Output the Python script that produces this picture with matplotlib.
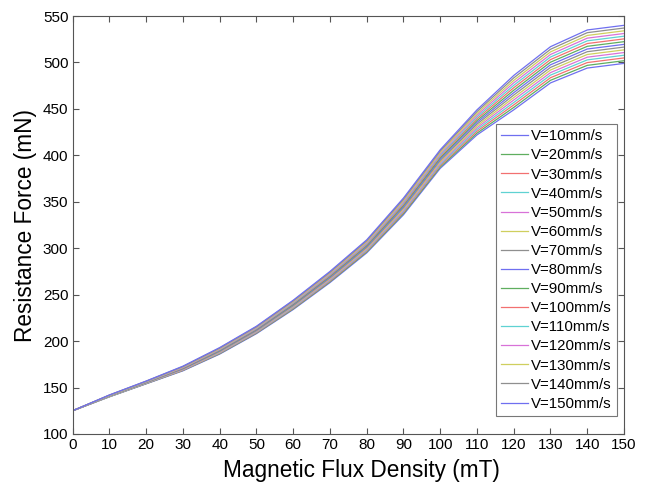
import matplotlib
matplotlib.use("Agg")
from matplotlib import pyplot as plt

plt.rcParams['font.family'] = ['Liberation Sans', 'DejaVu Sans']

# magnetic flux density (mT)
flux = [0, 10, 20, 30, 40, 50, 60, 70, 80, 90, 100, 110, 120, 130, 140, 150]

# resistance force (mN) for each velocity
f_v10 = [125, 140, 154, 168, 186, 208, 234, 263, 295, 336, 386, 422, 449, 478, 494, 499]
f_v20 = [125, 140.1, 154.2, 168.4, 186.5, 208.6, 234.7, 263.9, 296, 337.3, 387.4, 423.9, 451.6, 480.8, 496.9, 501.9]
f_v30 = [125, 140.3, 154.4, 168.7, 187, 209.1, 235.4, 264.7, 297, 338.6, 388.9, 425.9, 454.3, 483.6, 499.9, 504.9]
f_v40 = [125, 140.4, 154.6, 169.1, 187.5, 209.7, 236.1, 265.6, 298, 339.9, 390.3, 427.8, 456.9, 486.4, 502.8, 507.8]
f_v50 = [125, 140.6, 154.9, 169.4, 188, 210.3, 236.9, 266.4, 299, 341.1, 391.7, 429.7, 459.6, 489.1, 505.7, 510.7]
f_v60 = [125, 140.7, 155.1, 169.8, 188.5, 210.9, 237.6, 267.3, 300, 342.4, 393.1, 431.6, 462.2, 491.9, 508.6, 513.6]
f_v70 = [125, 140.9, 155.3, 170.1, 189, 211.4, 238.3, 268.1, 301, 343.7, 394.6, 433.6, 464.9, 494.7, 511.6, 516.6]
f_v80 = [125, 141, 155.5, 170.5, 189.5, 212, 239, 269, 302, 345, 396, 435.5, 467.5, 497.5, 514.5, 519.5]
f_v90 = [125, 141.1, 155.7, 170.9, 190, 212.6, 239.7, 269.9, 303, 346.3, 397.4, 437.4, 470.1, 500.3, 517.4, 522.4]
f_v100 = [125, 141.3, 155.9, 171.2, 190.5, 213.1, 240.4, 270.7, 304, 347.6, 398.9, 439.4, 472.8, 503.1, 520.4, 525.4]
f_v110 = [125, 141.4, 156.1, 171.6, 191, 213.7, 241.1, 271.6, 305, 348.9, 400.3, 441.3, 475.4, 505.9, 523.3, 528.3]
f_v120 = [125, 141.6, 156.4, 171.9, 191.5, 214.3, 241.9, 272.4, 306, 350.1, 401.7, 443.2, 478.1, 508.6, 526.2, 531.2]
f_v130 = [125, 141.7, 156.6, 172.3, 192, 214.9, 242.6, 273.3, 307, 351.4, 403.1, 445.1, 480.7, 511.4, 529.1, 534.1]
f_v140 = [125, 141.9, 156.8, 172.6, 192.5, 215.4, 243.3, 274.1, 308, 352.7, 404.6, 447.1, 483.4, 514.2, 532.1, 537.1]
f_v150 = [125, 142, 157, 173, 193, 216, 244, 275, 309, 354, 406, 449, 486, 517, 535, 540]

series = [f_v10, f_v20, f_v30, f_v40, f_v50, f_v60, f_v70, f_v80,
          f_v90, f_v100, f_v110, f_v120, f_v130, f_v140, f_v150]
labels = ['V=%dmm/s' % v for v in range(10, 160, 10)]

# old matlab colour order, washed out like in the figure
cols = ['#6f6ff0', '#5fae5f', '#f27070', '#5fd2d2', '#d872d8', '#cfcf5e', '#8f8f8f']

fig = plt.figure(figsize=(6.48, 4.86), dpi=100)
ax = fig.add_axes([0.112, 0.107, 0.851, 0.86])

for i in range(len(series)):
    ax.plot(flux, series[i], color=cols[i % 7], lw=0.9, label=labels[i])

ax.set_xlim(0, 150)
ax.set_ylim(100, 550)
ax.set_xticks(range(0, 151, 10))
ax.set_yticks(range(100, 551, 50))
ax.tick_params(direction='in', top=True, right=True, labelsize=11, length=4,
               color='#555555', pad=3)
for s in ax.spines.values():
    s.set_color('#555555')
    s.set_linewidth(0.8)

ax.set_xlabel('Magnetic Flux Density (mT)', fontsize=16.3, labelpad=5)
ax.xaxis.label.set_x(0.523)
ax.set_ylabel('Resistance Force (mN)', fontsize=16.3, labelpad=4)

leg = ax.legend(loc='lower right', bbox_to_anchor=(0.988, 0.043), fontsize=10.8,
                frameon=True, fancybox=False, edgecolor='#555555',
                handlelength=1.8, handletextpad=0.2, labelspacing=0.34,
                borderpad=0.35, borderaxespad=0)
leg.get_frame().set_linewidth(0.8)

plt.savefig('out.png', dpi=100)
